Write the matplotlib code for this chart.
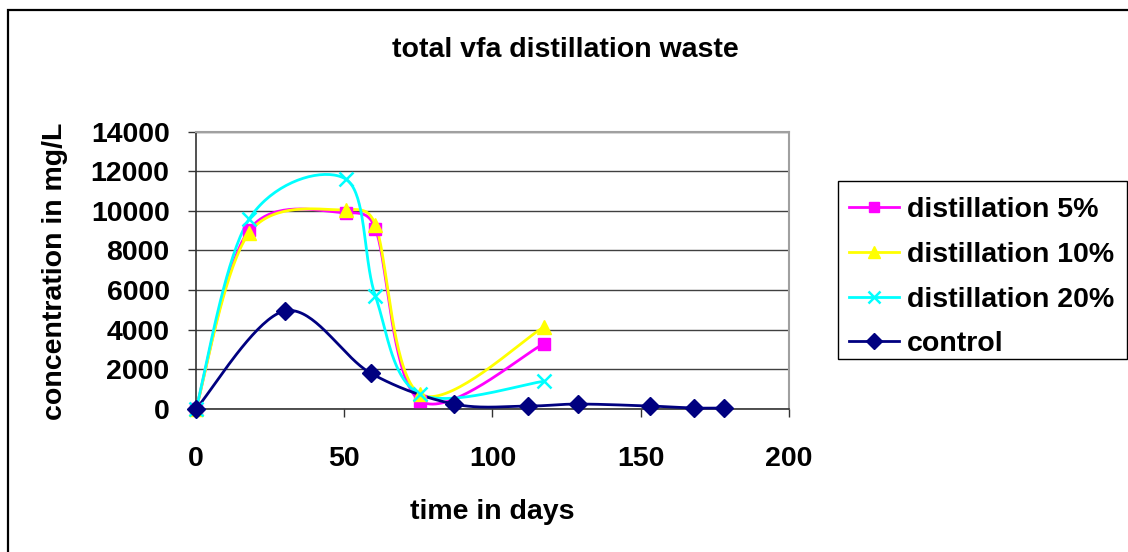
import numpy as np
import matplotlib
matplotlib.use("Agg")
import matplotlib.pyplot as plt
from matplotlib.lines import Line2D
from matplotlib.patches import Rectangle

plt.rcParams['font.family'] = ['Liberation Sans', 'DejaVu Sans']
plt.rcParams['font.weight'] = 'bold'

# Sampling days and total VFA concentrations (mg/L)
days_dist = [0, 18, 50.5, 60.5, 75.5, 117.5]
dist_5 = [0, 9050, 9900, 9100, 420, 3300]
dist_10 = [0, 8900, 10050, 9300, 750, 4150]
dist_20 = [0, 9600, 11600, 5700, 750, 1400]

days_control = [0, 30, 59, 87, 112, 129, 153, 168, 178]
control = [0, 4950, 1800, 250, 150, 250, 150, 50, 50]

series_labels = ['distillation 5%', 'distillation 10%', 'distillation 20%', 'control']
x_ticks = [0, 50, 100, 150, 200]
y_ticks = [0, 2000, 4000, 6000, 8000, 10000, 12000, 14000]

title = 'total vfa distillation waste'
x_label = 'time in days'
y_label = 'concentration in mg/L'

FS = 20.5

W, H = 1128, 552
AX_L, AX_R, AX_T, AX_B = 196, 789, 131.5, 409
X_MAX, Y_MAX = 200, 14000
SX = (AX_R - AX_L) / X_MAX     # pixels per day
SY = (AX_B - AX_T) / Y_MAX     # pixels per mg/L


def smooth(xs, ys, n=40):
    """Bezier smoothing through every point; tangents are computed in screen
    space and limited to half of the adjacent segment length."""
    p = np.column_stack([np.asarray(xs, float) * SX, np.asarray(ys, float) * SY])
    out = [p[0]]
    t = np.linspace(0, 1, n)[1:, None]
    for i in range(len(p) - 1):
        p0 = p[i - 1] if i > 0 else p[i]
        p1, p2 = p[i], p[i + 1]
        p3 = p[i + 2] if i + 2 < len(p) else p[i + 1]
        half = np.linalg.norm(p2 - p1) / 2.0
        v1 = (p2 - p0) / 6.0
        v2 = (p3 - p1) / 6.0
        for v in (v1, v2):
            L = np.linalg.norm(v)
            if L > half > 0:
                v *= half / L
        c1 = p1 + v1
        c2 = p2 - v2
        seg = ((1 - t) ** 3) * p1 + 3 * ((1 - t) ** 2) * t * c1 \
            + 3 * (1 - t) * t ** 2 * c2 + t ** 3 * p2
        out.extend(seg)
    out = np.array(out)
    return out[:, 0] / SX, out[:, 1] / SY


fig = plt.figure(figsize=(W / 100, H / 100), dpi=100)

# outer chart frame (left and top edges visible)
fig.add_artist(Rectangle((8 / W, -0.1), 1.2, 1 - 10 / H + 0.1, transform=fig.transFigure,
                         fill=False, edgecolor='black', linewidth=1.6))

ax = fig.add_axes([AX_L / W, (H - AX_B) / H, (AX_R - AX_L) / W, (AX_B - AX_T) / H])
ax.set_xlim(0, X_MAX)
ax.set_ylim(0, Y_MAX)
ax.set_xticks(x_ticks)
ax.set_yticks(y_ticks)
ax.set_xticklabels([str(v) for v in x_ticks])
ax.set_yticklabels([str(v) for v in y_ticks])
ax.tick_params(axis='both', labelsize=FS, direction='out', length=6, width=1, color='#333333')
ax.tick_params(axis='y', pad=13)
ax.tick_params(axis='x', pad=21)
for lab in ax.get_xticklabels() + ax.get_yticklabels():
    lab.set_fontweight('bold')

ax.grid(axis='y', color='#404040', linewidth=1)
ax.set_axisbelow(True)
for side in ('top', 'right'):
    ax.spines[side].set_color('#a0a0a0')
    ax.spines[side].set_linewidth(1.5)
for side in ('left', 'bottom'):
    ax.spines[side].set_color('#333333')
    ax.spines[side].set_linewidth(1.2)

styles = [
    dict(color='#ff00ff', marker='s', ms=8, mew=1),
    dict(color='#ffff00', marker='^', ms=10, mew=1),
    dict(color='#00ffff', marker='x', ms=10, mew=1.8),
    dict(color='#000080', marker='D', ms=9, mew=1),
]
data = [(days_dist, dist_5), (days_dist, dist_10), (days_dist, dist_20), (days_control, control)]

handles = []
for (xs, ys), st, lab in zip(data, styles, series_labels):
    sx, sy = smooth(xs, ys)
    ax.plot(sx, sy, color=st['color'], linewidth=2, clip_on=False, zorder=3)
    ax.plot(xs, ys, linestyle='none', clip_on=False, zorder=4, marker=st['marker'],
            markersize=st['ms'], color=st['color'], markeredgewidth=st['mew'])
    handles.append(Line2D([], [], color=st['color'], linewidth=2, marker=st['marker'],
                          markersize=st['ms'] * 0.85, markeredgewidth=st['mew']))

fig.text(565 / W, 1 - 50 / H, title, ha='center', va='center', fontsize=FS, fontweight='bold')
fig.text(492 / W, 1 - 512 / H, x_label, ha='center', va='center', fontsize=FS, fontweight='bold')
fig.text(55 / W, 1 - 271 / H, y_label, ha='center', va='center', rotation=90,
         fontsize=FS, fontweight='bold')

# legend box
fig.add_artist(Rectangle((838 / W, (H - 359) / H), (1127 - 838) / W, (359 - 181) / H,
                         transform=fig.transFigure, fill=False, edgecolor='black', linewidth=1))
leg = fig.legend(handles, series_labels, loc='upper left',
                 bbox_to_anchor=(849 / W, 1 - 197 / H), frameon=False,
                 prop=dict(size=FS, weight='bold'), handlelength=1.75, handletextpad=0.3,
                 labelspacing=0.66, borderpad=0, borderaxespad=0)

fig.savefig('out.png', dpi=100, facecolor='white')
